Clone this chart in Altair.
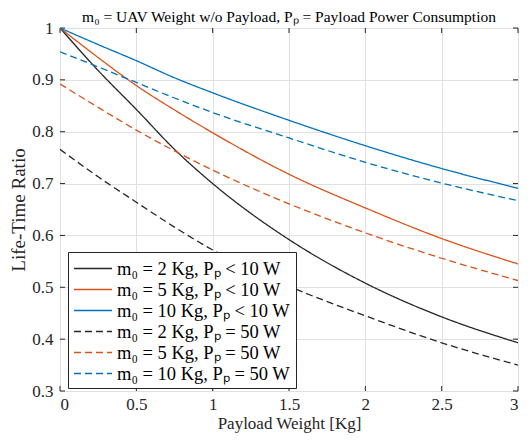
import altair as alt
import pandas as pd

# ---- data ----
x_vals = [0, 0.25, 0.5, 0.75, 1, 1.5, 2, 2.5, 3]

m2_low   = [1.000, 0.918, 0.843, 0.766, 0.700, 0.592, 0.508, 0.443, 0.393]
m5_low   = [1.000, 0.943, 0.889, 0.842, 0.798, 0.718, 0.653, 0.594, 0.545]
m10_low  = [1.000, 0.968, 0.937, 0.904, 0.875, 0.822, 0.773, 0.729, 0.691]
m2_high  = [0.766, 0.713, 0.664, 0.616, 0.572, 0.502, 0.445, 0.393, 0.350]
m5_high  = [0.892, 0.847, 0.803, 0.763, 0.726, 0.661, 0.605, 0.556, 0.513]
m10_high = [0.954, 0.925, 0.895, 0.865, 0.837, 0.788, 0.741, 0.701, 0.667]

series_labels = [
    "m\u2080 = 2 Kg, P\u209a < 10 W",
    "m\u2080 = 5 Kg, P\u209a < 10 W",
    "m\u2080 = 10 Kg, P\u209a < 10 W",
    "m\u2080 = 2 Kg, P\u209a = 50 W",
    "m\u2080 = 5 Kg, P\u209a = 50 W",
    "m\u2080 = 10 Kg, P\u209a = 50 W",
]
series_values = [m2_low, m5_low, m10_low, m2_high, m5_high, m10_high]

x_ticks = [0, 0.5, 1, 1.5, 2, 2.5, 3]
y_ticks = [0.3, 0.4, 0.5, 0.6, 0.7, 0.8, 0.9, 1.0]

colors = ["#262626", "#D95319", "#0072BD", "#262626", "#D95319", "#0072BD"]
dashes = [[1, 0], [1, 0], [1, 0], [7, 4], [7, 4], [7, 4]]

title_text = "m\u2080 = UAV Weight w/o Payload, P\u209a = Payload Power Consumption"

rows = []
for lab, vals in zip(series_labels, series_values):
    for xv, yv in zip(x_vals, vals):
        rows.append({"x": xv, "y": yv, "series": lab})
df = pd.DataFrame(rows)

W, H = 458, 363
FONT = "Liberation Serif"
AX = "#262626"

xscale = alt.Scale(domain=[0, 3], nice=False, zero=False)
yscale = alt.Scale(domain=[0.3, 1.0], nice=False, zero=False)

legend_kw = dict(title=None, orient="none", legendX=8, legendY=224,
                 symbolType="M-1,0H2.62", symbolSize=441, symbolStrokeWidth=1.3,
                 labelFont=FONT, labelFontSize=18.5, labelColor="black",
                 fillColor="white", strokeColor=AX, padding=5,
                 rowPadding=0, labelOffset=21, labelLimit=400)

lines = alt.Chart(df).mark_line(strokeWidth=1.3, interpolate="monotone", clip=True).encode(
    x=alt.X("x:Q", scale=xscale,
            axis=alt.Axis(values=x_ticks, format="~g", title="Payload Weight [Kg]",
                          grid=True, gridColor="#e0e0e0", ticks=False, domain=False,
                          labelPadding=5, labelFontSize=17, titleFontSize=17,
                          titlePadding=3, labelColor=AX, titleColor=AX,
                          labelFont=FONT, titleFont=FONT, titleFontWeight="normal")),
    y=alt.Y("y:Q", scale=yscale,
            axis=alt.Axis(values=y_ticks, format="~g", title="Life-Time Ratio",
                          grid=True, gridColor="#e0e0e0", ticks=False, domain=False,
                          labelPadding=7, labelFontSize=17, titleFontSize=19,
                          titlePadding=3, labelColor=AX, titleColor=AX,
                          labelFont=FONT, titleFont=FONT, titleFontWeight="normal")),
    color=alt.Color("series:N", scale=alt.Scale(domain=series_labels, range=colors),
                    legend=alt.Legend(**legend_kw)),
    strokeDash=alt.StrokeDash("series:N", scale=alt.Scale(domain=series_labels, range=dashes),
                              legend=alt.Legend(**legend_kw)),
)

xt = pd.DataFrame({"x": x_ticks})
yt = pd.DataFrame({"y": y_ticks})
TL = 5
tick_b = alt.Chart(xt).mark_rule(color=AX, strokeWidth=1).encode(
    x=alt.X("x:Q", scale=xscale), y=alt.value(H), y2=alt.value(H - TL))
tick_t = alt.Chart(xt).mark_rule(color=AX, strokeWidth=1).encode(
    x=alt.X("x:Q", scale=xscale), y=alt.value(0), y2=alt.value(TL))
tick_l = alt.Chart(yt).mark_rule(color=AX, strokeWidth=1).encode(
    y=alt.Y("y:Q", scale=yscale), x=alt.value(0), x2=alt.value(TL))
tick_r = alt.Chart(yt).mark_rule(color=AX, strokeWidth=1).encode(
    y=alt.Y("y:Q", scale=yscale), x=alt.value(W - TL), x2=alt.value(W))

chart = alt.layer(tick_b, tick_t, tick_l, tick_r, lines).properties(
    width=W, height=H,
    title=alt.TitleParams(title_text, font=FONT, fontSize=15.5, fontWeight="normal",
                          color="black", offset=-6),
    autosize=alt.AutoSizeParams(type="none"),
    padding={"left": 52, "top": 20, "right": 5, "bottom": 45},
).configure_view(stroke=AX, strokeWidth=1).configure(background="white")

chart.save("out.html", embed_options={"renderer": "svg", "actions": False})
